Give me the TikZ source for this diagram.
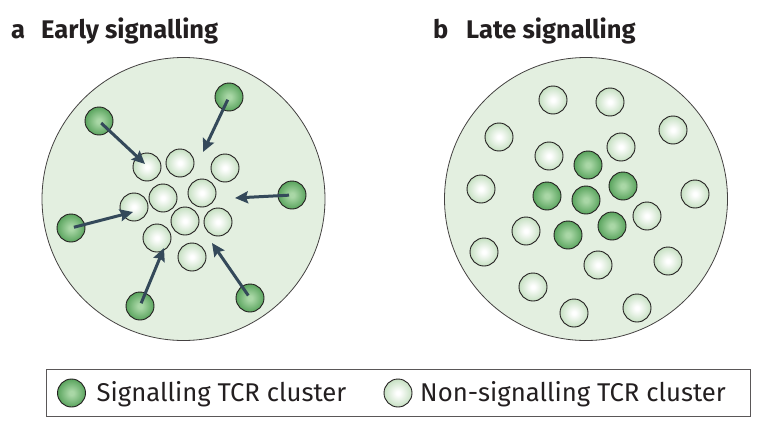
\documentclass[tikz,border=0pt]{standalone}
\usepackage{fontspec}
\setmainfont{Fira Sans}
\usetikzlibrary{arrows.meta}
\definecolor{cellfill}{HTML}{E3EFE0}
\definecolor{siginner}{HTML}{A9D7A6}
\definecolor{sigouter}{HTML}{5AA45E}
\definecolor{nonouter}{HTML}{C6E0C2}
\definecolor{arrowgrey}{HTML}{34495A}
\definecolor{inkgrey}{HTML}{231F20}
\pgfdeclareradialshading{sigball}{\pgfpoint{0bp}{0bp}}{color(0bp)=(siginner); color(4bp)=(siginner); color(25bp)=(sigouter); color(50bp)=(sigouter)}
\pgfdeclareradialshading{nonball}{\pgfpoint{0bp}{0bp}}{color(0bp)=(white); color(3bp)=(white); color(25bp)=(nonouter); color(50bp)=(nonouter)}
\begin{document}
\begin{tikzpicture}[x=1pt,y=-1pt,
    cell/.style={circle,draw=inkgrey!85,line width=0.8pt,fill=cellfill,minimum size=283pt,inner sep=0pt},
    sig/.style={circle,draw=inkgrey,line width=0.9pt,shading=sigball,minimum size=28pt,inner sep=0pt},
    nonsig/.style={circle,draw=inkgrey,line width=0.9pt,shading=nonball,minimum size=28pt,inner sep=0pt},
    move/.style={arrowgrey,line width=3pt,shorten <=3pt,-{Stealth[length=13pt,width=12pt,inset=2pt]}},
    title/.style={anchor=base west,inner sep=0pt,text=inkgrey,font=\bfseries\fontsize{25.5}{25.5}\selectfont},
    key/.style={anchor=base west,inner sep=0pt,text=inkgrey,font=\fontsize{25.7}{25.7}\selectfont}]
    \useasboundingbox (0,0) rectangle (762,428);
    % panel a
    \node[title] (la) at (11,38) {a};
    \node[title] (ta) at (41,38) {Early signalling};
    \node[cell] (cellA) at (183.5,199) {};
    \node[nonsig] (a1) at (147,167) {};
    \node[nonsig] (a2) at (180,163) {};
    \node[nonsig] (a3) at (225,168) {};
    \node[nonsig] (a4) at (163,198) {};
    \node[nonsig] (a5) at (202,193) {};
    \node[nonsig] (a6) at (134,207) {};
    \node[nonsig] (a7) at (185,221) {};
    \node[nonsig] (a8) at (218,222) {};
    \node[nonsig] (a9) at (157,238) {};
    \node[nonsig] (a10) at (192,257) {};
    \node[sig] (s1) at (99,121) {};
    \node[sig] (s2) at (229,97) {};
    \node[sig] (s3) at (292,195) {};
    \node[sig] (s4) at (71,228) {};
    \node[sig] (s5) at (140,306) {};
    \node[sig] (s6) at (250,298) {};
    \coordinate (t1) at (145,164);
    \coordinate (t2) at (203,152);
    \coordinate (t3) at (235,198);
    \coordinate (t4) at (133,212);
    \coordinate (t5) at (164,248);
    \coordinate (t6) at (212,243);
    \draw[move] (s1.center) -- (t1);
    \draw[move] (s2.center) -- (t2);
    \draw[move] (s3.center) -- (t3);
    \draw[move] (s4.center) -- (t4);
    \draw[move] (s5.center) -- (t5);
    \draw[move] (s6.center) -- (t6);
    % panel b
    \node[title] (lb) at (433,38) {b};
    \node[title] (tb) at (466,38) {Late signalling};
    \node[cell] (cellB) at (586,199) {};
    \node[nonsig] (b1) at (553,100) {};
    \node[nonsig] (b2) at (610,102) {};
    \node[nonsig] (b3) at (499,137) {};
    \node[nonsig] (b4) at (673,130) {};
    \node[nonsig] (b5) at (549,156) {};
    \node[nonsig] (b6) at (621,147) {};
    \node[nonsig] (b7) at (481,189) {};
    \node[nonsig] (b8) at (695,194) {};
    \node[nonsig] (b9) at (526,231) {};
    \node[nonsig] (b10) at (647,216) {};
    \node[nonsig] (b11) at (484,252) {};
    \node[nonsig] (b12) at (598,265) {};
    \node[nonsig] (b13) at (668,261) {};
    \node[nonsig] (b14) at (533,287) {};
    \node[nonsig] (b15) at (574,313) {};
    \node[nonsig] (b16) at (637,308) {};
    \node[sig] (c1) at (588,165) {};
    \node[sig] (c2) at (623,186) {};
    \node[sig] (c3) at (547,196) {};
    \node[sig] (c4) at (586,200) {};
    \node[sig] (c5) at (568,235) {};
    \node[sig] (c6) at (612,226) {};
    % key
    \draw[inkgrey!75,line width=0.8pt] (46,369) rectangle (750,416);
    \node[sig] (ks) at (71.5,393) {};
    \node[key] (kst) at (96.5,401.5) {Signalling TCR cluster};
    \node[nonsig] (kn) at (398,393) {};
    \node[key] (knt) at (420,401.5) {Non-signalling TCR cluster};
\end{tikzpicture}
\end{document}
